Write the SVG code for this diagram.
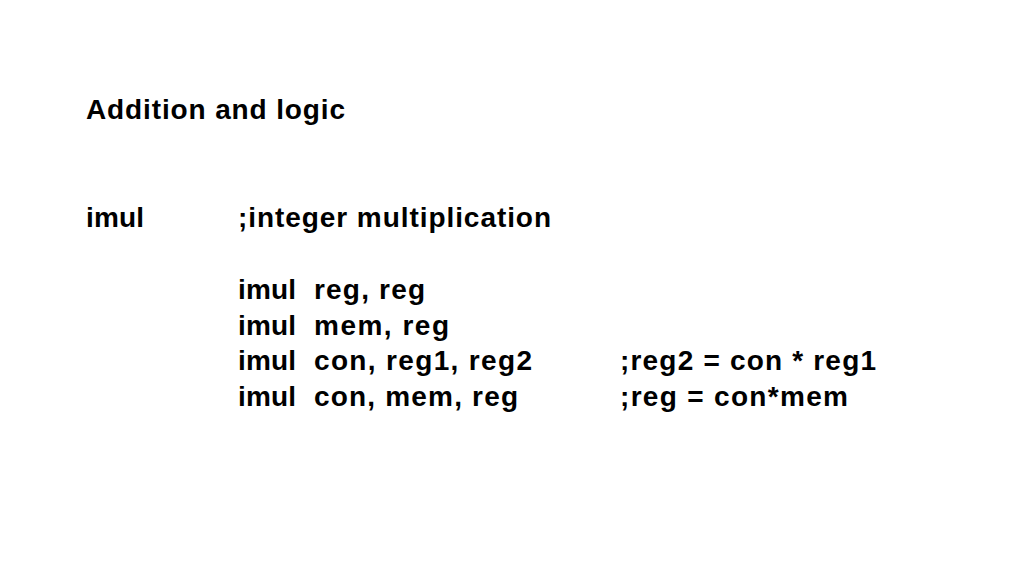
<svg xmlns="http://www.w3.org/2000/svg" width="1024" height="576" viewBox="0 0 1024 576">
<style>text{font-family:"Liberation Sans",Arial,sans-serif;font-weight:bold;font-size:28px;fill:#000}</style>
<rect width="1024" height="576" fill="#fff"/>
<text x="86" y="119" textLength="259">Addition and logic</text>
<text x="86" y="227" textLength="58">imul</text>
<text x="238" y="227" textLength="313">;integer multiplication</text>
<text x="238" y="299" textLength="58">imul</text><text x="314" y="299" textLength="111">reg, reg</text>
<text x="238" y="335" textLength="58">imul</text><text x="314" y="335" textLength="135">mem, reg</text>
<text x="238" y="370" textLength="58">imul</text><text x="314" y="370" textLength="218">con, reg1, reg2</text><text x="620" y="370" textLength="256">;reg2 = con * reg1</text>
<text x="238" y="406" textLength="58">imul</text><text x="314" y="406" textLength="204">con, mem, reg</text><text x="620" y="406" textLength="228">;reg = con*mem</text>
</svg>
